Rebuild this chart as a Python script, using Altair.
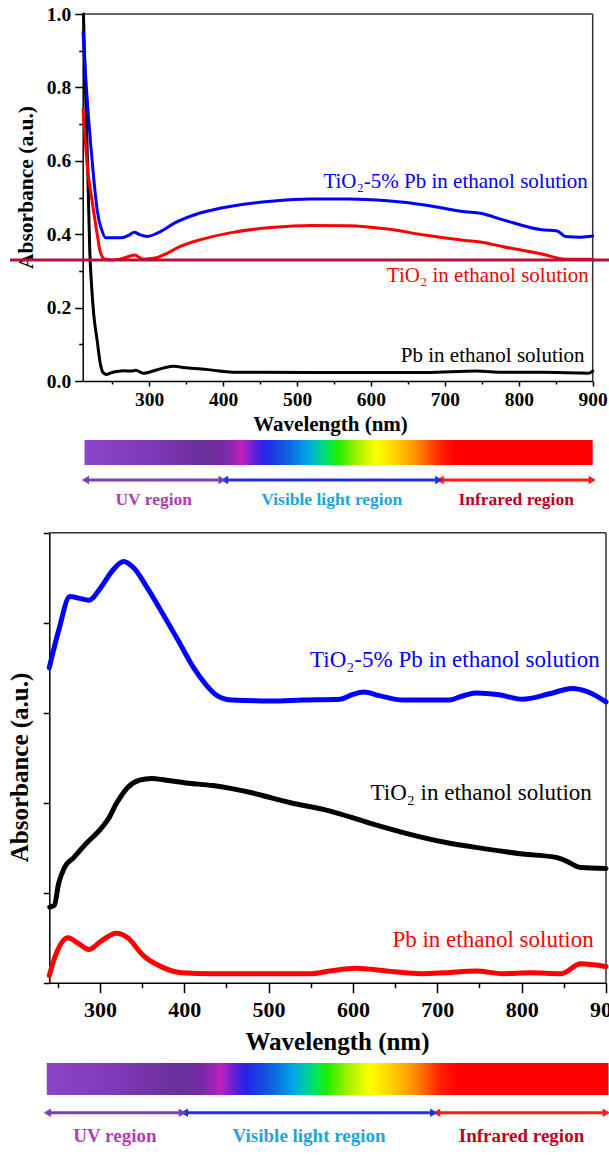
import altair as alt
import pandas as pd

W, H = 609, 1160
FONT = "Liberation Serif"

# ---------------- top panel data (wavelength nm, absorbance a.u.) ----------------
top_black_wl = [211, 214, 217, 219.5, 222, 225, 229.6, 234, 238, 242, 248, 256, 266, 276, 282, 292, 300, 310, 322, 333, 350, 380, 413, 520, 675, 742, 780, 831, 880, 894, 900]
top_black_ab = [1.0, 0.78, 0.56, 0.36, 0.26, 0.18, 0.11, 0.045, 0.022, 0.018, 0.022, 0.026, 0.028, 0.027, 0.029, 0.021, 0.024, 0.03, 0.037, 0.04, 0.036, 0.031, 0.024, 0.023, 0.023, 0.027, 0.024, 0.024, 0.022, 0.021, 0.027]

top_blue_wl = [210.5, 213, 217, 221, 225, 230, 236, 241, 250, 262, 272, 280, 287, 298, 313, 334, 371, 413, 465, 518, 570, 622, 675, 727, 748, 779, 831, 852, 863, 884, 900]
top_blue_ab = [0.95, 0.86, 0.74, 0.64, 0.55, 0.46, 0.41, 0.39, 0.39, 0.39, 0.397, 0.405, 0.399, 0.394, 0.405, 0.43, 0.459, 0.477, 0.49, 0.496, 0.496, 0.491, 0.479, 0.461, 0.457, 0.439, 0.412, 0.409, 0.394, 0.392, 0.395]

top_red_wl = [210.5, 217, 222, 225, 229.6, 234, 240, 251, 266, 280, 292, 308, 324, 340, 371, 413, 465, 518, 570, 622, 675, 727, 748, 779, 831, 863, 900]
top_red_ab = [0.74, 0.57, 0.5, 0.46, 0.4, 0.35, 0.332, 0.33, 0.335, 0.343, 0.332, 0.335, 0.348, 0.365, 0.386, 0.405, 0.418, 0.424, 0.423, 0.414, 0.397, 0.383, 0.379, 0.366, 0.346, 0.332, 0.332]

top_labels = ["TiO\u2082-5% Pb in ethanol solution", "TiO\u2082 in ethanol solution", "Pb in ethanol solution"]
top_label_wl = [893.4, 894.8, 889]
top_label_ab = [0.526, 0.27, 0.0526]
top_label_col = ["#0000ff", "#ff0000", "#000000"]
top_hline = 0.33

# ---------------- bottom panel data ----------------
bot_blue_wl = [240, 251, 264.5, 276, 287, 301, 315, 328, 340, 356, 374.5, 393, 411, 425, 439, 457, 503, 540, 585, 599, 613, 631, 659, 714, 728, 746, 773, 801, 833, 860, 879, 900]
bot_blue_ab = [3.50, 3.91, 4.29, 4.27, 4.25, 4.39, 4.58, 4.68, 4.61, 4.39, 4.10, 3.80, 3.50, 3.32, 3.19, 3.14, 3.13, 3.14, 3.15, 3.20, 3.23, 3.19, 3.14, 3.14, 3.18, 3.22, 3.20, 3.15, 3.21, 3.27, 3.23, 3.12]

bot_black_wl = [240.5, 246, 251, 258, 269, 283, 301, 310, 319.5, 333, 347, 361, 379, 402, 434, 480, 526, 572, 617.5, 663, 709, 755, 801, 842, 851, 870, 900]
bot_black_ab = [0.84, 0.86, 1.10, 1.28, 1.39, 1.54, 1.71, 1.82, 1.99, 2.17, 2.25, 2.27, 2.25, 2.22, 2.19, 2.11, 2.00, 1.91, 1.78, 1.66, 1.56, 1.49, 1.43, 1.39, 1.36, 1.28, 1.27]

bot_red_wl = [240, 248, 262, 274, 287, 301, 319.5, 333, 351.5, 374.5, 397, 434, 549, 572, 604, 640, 682, 709, 746, 778, 810, 847, 870, 900]
bot_red_ab = [0.08, 0.32, 0.50, 0.44, 0.37, 0.46, 0.55, 0.50, 0.30, 0.17, 0.11, 0.10, 0.10, 0.13, 0.16, 0.13, 0.10, 0.11, 0.13, 0.10, 0.11, 0.10, 0.21, 0.18]

bot_labels = ["TiO\u2082-5% Pb in ethanol solution", "TiO\u2082 in ethanol solution", "Pb in ethanol solution"]
bot_label_wl = [892.5, 883.2, 885.4]
bot_label_ab = [3.51, 2.03, 0.40]
bot_label_col = ["#0000ff", "#000000", "#ff0000"]

# ---------------- spectrum regions ----------------
region_names = ["UV region", "Visible  light  region", "Infrared  region"]
region_text_col = ["#b23cb4", "#1ea3dc", "#c0001c"]
region_arrow_col = ["#7b40b4", "#2430e0", "#ff1a1a"]
top_region_start = [213.7, 401.9, 693.5]
top_region_end = [398.5, 691.9, 899.5]
bot_region_start = [237.7, 400.2, 699.3]
bot_region_end = [397.8, 695.8, 900.3]

spectrum_stops = [
    (0.00, "#8b45c8"), (0.12, "#7e3ab8"), (0.24, "#6a2e9a"), (0.28, "#7a2aa8"),
    (0.31, "#c020c0"), (0.335, "#6020d8"), (0.355, "#2424e8"), (0.40, "#1060e0"),
    (0.44, "#00a8e8"), (0.475, "#00e070"), (0.50, "#20f000"), (0.535, "#a0f000"),
    (0.575, "#ffff00"), (0.62, "#ffc800"), (0.66, "#ff8000"), (0.70, "#ff2000"),
    (0.73, "#ff0000"), (1.00, "#ff0000"),
]
gradient = alt.Gradient(
    gradient="linear",
    stops=[alt.GradientStop(offset=o, color=c) for o, c in spectrum_stops],
    x1=0, x2=1, y1=0, y2=0,
)


def curves(wls, abss, cols, names):
    rows = []
    for wl, ab, c, n in zip(wls, abss, cols, names):
        for a, b in zip(wl, ab):
            rows.append({"wl": a, "abs": b, "color": c, "series": n})
    return pd.DataFrame(rows)


def panel(cfg):
    xs = alt.Scale(domain=cfg["xdom"], range=cfg["xrange"], nice=False, zero=False)
    ys = alt.Scale(domain=cfg["ydom"], range=cfg["yrange"], nice=False, zero=False)
    X = lambda f="wl": alt.X(f"{f}:Q", scale=xs, axis=cfg["xaxis"])
    Y = lambda f="abs": alt.Y(f"{f}:Q", scale=ys, axis=cfg["yaxis"])

    lines = alt.Chart(cfg["curves"]).mark_line(
        interpolate="monotone", strokeWidth=cfg["lw"], strokeCap="round", strokeJoin="round"
    ).encode(x=X(), y=Y(), color=alt.Color("color:N", scale=None), detail="series:N")

    frame = alt.Chart(cfg["frame"]).mark_rule(color="#333333", strokeWidth=1.5).encode(
        x=X(), x2=alt.X2("wl2"), y=Y(), y2=alt.Y2("abs2"))

    labels = alt.Chart(cfg["labels"]).mark_text(
        align="right", baseline="alphabetic", font=FONT, fontSize=cfg["lfs"]
    ).encode(x=X(), y=Y(), text="text:N", color=alt.Color("color:N", scale=None))

    bar = alt.Chart(pd.DataFrame({"wl": [cfg["bar"][0]], "wl2": [cfg["bar"][1]]})).mark_rect(
        color=gradient).encode(x=X(), x2=alt.X2("wl2"),
                               y=alt.value(cfg["bary"][0]), y2=alt.value(cfg["bary"][1]))

    arr = pd.DataFrame({"wl": cfg["rs"], "wl2": cfg["re"], "color": region_arrow_col})
    arrows = alt.Chart(arr).mark_rule(strokeWidth=3).encode(
        x=X(), x2=alt.X2("wl2"), y=alt.value(cfg["arry"]), color=alt.Color("color:N", scale=None))
    heads_df = pd.DataFrame({
        "wl": list(cfg["rs"]) + list(cfg["re"]),
        "shape": ["triangle-left"] * 3 + ["triangle-right"] * 3,
        "color": region_arrow_col * 2,
    })
    heads = alt.Chart(heads_df).mark_point(filled=True, size=70, opacity=1).encode(
        x=X(), y=alt.value(cfg["arry"]), shape=alt.Shape("shape:N", scale=None),
        color=alt.Color("color:N", scale=None))
    rl = pd.DataFrame({"wl": [(a + b) / 2 for a, b in zip(cfg["rs"], cfg["re"])],
                       "text": region_names, "color": region_text_col})
    rlabels = alt.Chart(rl).mark_text(font=FONT, fontWeight="bold", fontSize=cfg["rfs"],
                                      baseline="middle", align="center").encode(
        x=X(), y=alt.value(cfg["rly"]), text="text:N", color=alt.Color("color:N", scale=None))

    layers = [bar, arrows, heads, rlabels, frame, lines, labels]
    if cfg.get("hline") is not None:
        hl = alt.Chart(pd.DataFrame({"abs": [cfg["hline"]]})).mark_rule(
            color="#b3123d", strokeWidth=3).encode(y=Y(), x=alt.value(10), x2=alt.value(W))
        layers.append(hl)
    return alt.layer(*layers)


# ---------------- top panel config ----------------
top_x_vals = list(range(250, 901, 50))
top_y_vals = [round(i / 10, 1) for i in range(0, 11)]
top_xaxis = alt.Axis(
    orient="bottom", offset=-(H - 381), values=top_x_vals, grid=False,
    tickSize={"condition": {"test": "datum.value % 100 === 0", "value": 5}, "value": 3},
    labelExpr="datum.value % 100 === 0 ? datum.label : ''",
    labelFont=FONT, labelFontSize=19.5, labelFontWeight="bold", labelColor="black",
    labelPadding=4, labelOverlap=False, labelFlush=False,
    domainColor="black", domainWidth=1.5, tickColor="black", tickWidth=1.5,
    title="Wavelength (nm)", titleFont=FONT, titleFontSize=21, titleFontWeight="bold",
    titleColor="black", titleBaseline="middle", titleY=43, titleX=330,
)
top_yaxis = alt.Axis(
    orient="left", offset=-82.7, values=top_y_vals, grid=False,
    tickSize={"condition": {"test": "round(datum.value * 10) % 2 === 0", "value": 8}, "value": 4},
    labelExpr="round(datum.value * 10) % 2 === 0 ? format(datum.value, '.1f') : ''",
    labelFont=FONT, labelFontSize=19.5, labelFontWeight="bold", labelColor="black",
    labelPadding=4, labelOverlap=False, labelFlush=False,
    domainColor="black", domainWidth=1.5, tickColor="black", tickWidth=1.5,
    title="Absorbance (a.u.)", titleFont=FONT, titleFontSize=21.5, titleFontWeight="bold",
    titleColor="black", titleBaseline="middle", titleX=27 - 82.7, titleY=187,
)
top_cfg = dict(
    xdom=[210, 900], xrange=[82.7, 592.7], ydom=[0, 1], yrange=[381, 14],
    xaxis=top_xaxis, yaxis=top_yaxis, lw=3, lfs=21, rfs=17.5,
    curves=curves([top_black_wl, top_red_wl, top_blue_wl], [top_black_ab, top_red_ab, top_blue_ab],
                  ["#000000", "#ff0000", "#0000ff"], ["Pb", "TiO2", "TiO2-Pb"]),
    frame=pd.DataFrame({"wl": [210, 900], "wl2": [900, 900], "abs": [1, 0], "abs2": [1, 1]}),
    labels=pd.DataFrame({"wl": top_label_wl, "abs": top_label_ab, "text": top_labels, "color": top_label_col}),
    bar=(212.5, 900), bary=(440, 465), rs=top_region_start, re=top_region_end,
    arry=480, rly=500, hline=top_hline,
)

# ---------------- bottom panel config ----------------
bot_x_vals = list(range(250, 901, 50))
bot_xaxis = alt.Axis(
    orient="bottom", offset=-(H - 982.7), values=bot_x_vals, grid=False,
    tickSize={"condition": {"test": "datum.value % 100 === 0", "value": 10}, "value": 5},
    labelExpr="datum.value % 100 === 0 ? datum.label : ''",
    labelFont=FONT, labelFontSize=22, labelFontWeight="bold", labelColor="black",
    labelPadding=7, labelOverlap=False, labelFlush=False,
    domainColor="black", domainWidth=1.5, tickColor="black", tickWidth=1.5,
    title="Wavelength (nm)", titleFont=FONT, titleFontSize=25, titleFontWeight="bold",
    titleColor="black", titleBaseline="middle", titleY=59, titleX=337,
)
bot_yaxis = alt.Axis(
    orient="left", offset=-49.3, values=[0, 1, 2, 3, 4, 5], grid=False, labels=False,
    tickSize=6, domainColor="black", domainWidth=1.5, tickColor="black", tickWidth=1.5,
    title="Absorbance (a.u.)", titleFont=FONT, titleFontSize=25, titleFontWeight="bold",
    titleColor="black", titleBaseline="middle", titleX=19.5 - 49.3, titleY=767,
)
bot_cfg = dict(
    xdom=[240, 900], xrange=[49.3, 606], ydom=[0, 5], yrange=[982.7, 532.7],
    xaxis=bot_xaxis, yaxis=bot_yaxis, lw=5, lfs=23, rfs=19,
    curves=curves([bot_red_wl, bot_black_wl, bot_blue_wl], [bot_red_ab, bot_black_ab, bot_blue_ab],
                  ["#ff0000", "#000000", "#0000ff"], ["Pb", "TiO2", "TiO2-Pb"]),
    frame=pd.DataFrame({"wl": [240, 900], "wl2": [900, 900], "abs": [5, 0], "abs2": [5, 5]}),
    labels=pd.DataFrame({"wl": bot_label_wl, "abs": bot_label_ab, "text": bot_labels, "color": bot_label_col}),
    bar=(237, 903), bary=(1063, 1095), rs=bot_region_start, re=bot_region_end,
    arry=1112.7, rly=1136, hline=None,
)

chart = alt.layer(panel(top_cfg), panel(bot_cfg)).resolve_scale(
    x="independent", y="independent"
).properties(
    width=W, height=H, padding=0, autosize="none", background="white"
).configure_view(stroke="transparent")

chart.save("out.html", embed_options={"renderer": "svg", "actions": False})
